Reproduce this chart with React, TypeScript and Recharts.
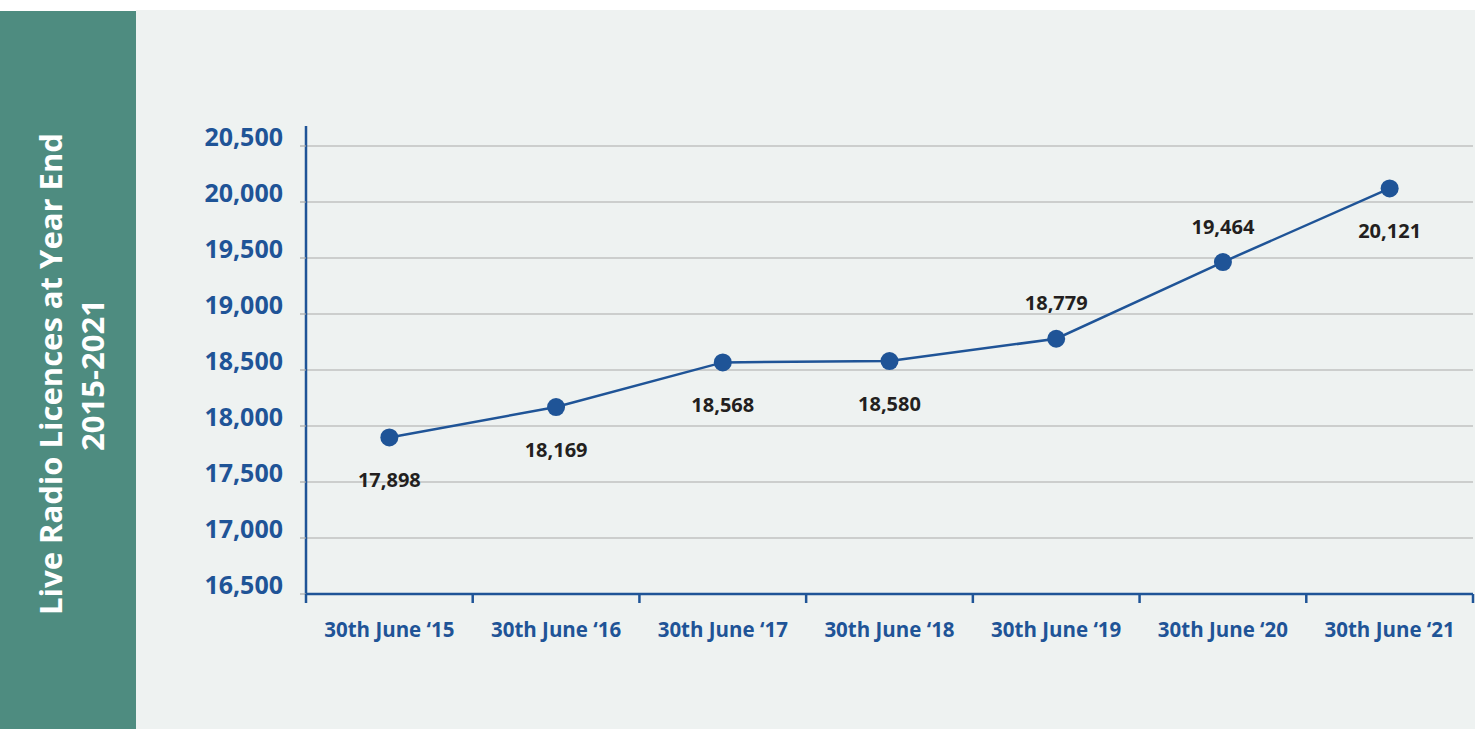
import React from "react";
import { LineChart, Line, XAxis, YAxis, CartesianGrid } from "recharts";

const periods = [
  "30th June ‘15",
  "30th June ‘16",
  "30th June ‘17",
  "30th June ‘18",
  "30th June ‘19",
  "30th June ‘20",
  "30th June ‘21",
];
const licences = [17898, 18169, 18568, 18580, 18779, 19464, 20121];
const yTicks = [16500, 17000, 17500, 18000, 18500, 19000, 19500, 20000, 20500];
// which value labels sit above their dot
const labelAbove = [false, false, false, false, true, true, false];

const W = 1475;
const H = 729;
const TOP = 126;
const AXIS_X = 306;
const PLOT_RIGHT = 1473;
const BAND = (PLOT_RIGHT - AXIS_X) / periods.length;

const BLUE = "#1f5497";
const GRID = "#a9a9a9";
const FONT = "'Open Sans', sans-serif";

const chartData = periods.map((p, i) => ({ period: p, value: licences[i] }));

const fmt = (v: number) => v.toLocaleString("en-US");

const XTick = (props: any) => {
  const { x, y, payload, index } = props;
  const left = x - BAND / 2;
  const right = x + BAND / 2;
  return (
    <g>
      <line x1={left} x2={left} y1={y} y2={y + 9} stroke={BLUE} strokeWidth={2.5} />
      {index === periods.length - 1 && (
        <line x1={right} x2={right} y1={y} y2={y + 9} stroke={BLUE} strokeWidth={2.5} />
      )}
      <text
        x={x}
        y={y + 35}
        textAnchor="middle"
        dominantBaseline="central"
        fill={BLUE}
        fontSize={20.5}
        fontWeight={700}
        fontFamily={FONT}
      >
        {payload.value}
      </text>
    </g>
  );
};

const YTick = (props: any) => {
  const { x, y, payload } = props;
  return (
    <text
      x={x}
      y={y - 10}
      textAnchor="end"
      dominantBaseline="central"
      fill={BLUE}
      fontSize={25}
      fontWeight={700}
      fontFamily={FONT}
    >
      {fmt(payload.value)}
    </text>
  );
};

// skip the line recharts adds along the top edge of the plot
const GridLine = (props: any) => {
  const { x1, x2, y1, y2, index } = props;
  if (Math.abs(y1 - TOP) < 2) return <g key={`gl-${index}`} />;
  return (
    <line
      key={`gl-${index}`}
      x1={x1}
      x2={x2}
      y1={y1}
      y2={y2}
      stroke={GRID}
      strokeWidth={1.2}
    />
  );
};

const renderLabel = (props: any) => {
  const { x, y, value, index } = props;
  const above = labelAbove[index];
  return (
    <text
      key={`lbl-${index}`}
      x={x}
      y={above ? y - 36 : y + 42}
      textAnchor="middle"
      dominantBaseline="central"
      fill="#231f20"
      fontSize={20}
      fontWeight={700}
      fontFamily={FONT}
    >
      {fmt(value)}
    </text>
  );
};

const App = () => {
  return (
    <div
      style={{
        position: "absolute",
        left: 0,
        top: 0,
        width: W,
        height: H,
        background: "#ffffff",
        fontFamily: FONT,
      }}
    >
      <svg width={W} height={H} style={{ position: "absolute", left: 0, top: 0 }}>
        <rect x={0} y={11} width={136} height={H - 11} fill="#4e8c80" />
        <rect x={136} y={10} width={W - 136} height={H - 10} fill="#eef2f1" />
        <g transform="translate(50, 374) rotate(-90)">
          <text
            x={0}
            y={0}
            textAnchor="middle"
            dominantBaseline="central"
            fill="#ffffff"
            fontSize={31}
            fontWeight={700}
            fontFamily={FONT}
          >
            Live Radio Licences at Year End
          </text>
        </g>
        <g transform="translate(92, 375) rotate(-90)">
          <text
            x={0}
            y={0}
            textAnchor="middle"
            dominantBaseline="central"
            fill="#ffffff"
            fontSize={31}
            fontWeight={700}
            fontFamily={FONT}
          >
            2015-2021
          </text>
        </g>
      </svg>
      <div style={{ position: "absolute", left: 0, top: 0 }}>
        <LineChart
          width={W}
          height={H}
          data={chartData}
          margin={{ top: TOP, right: W - PLOT_RIGHT, bottom: 0, left: 0 }}
        >
          <CartesianGrid vertical={false} horizontal={<GridLine />} />
          <XAxis
            dataKey="period"
            interval={0}
            height={H - 594}
            padding={{ left: BAND / 2, right: BAND / 2 }}
            axisLine={{ stroke: BLUE, strokeWidth: 2.5 }}
            tickLine={false}
            tickSize={0}
            tickMargin={0}
            tick={<XTick />}
          />
          <YAxis
            width={AXIS_X}
            domain={[16500, 20500]}
            ticks={yTicks}
            interval={0}
            padding={{ top: 20, bottom: 0 }}
            axisLine={{ stroke: BLUE, strokeWidth: 2.5 }}
            tickLine={{ stroke: GRID, strokeWidth: 1.2 }}
            tickSize={6}
            tickMargin={17}
            tick={<YTick />}
          />
          <Line
            type="linear"
            dataKey="value"
            stroke={BLUE}
            strokeWidth={2.5}
            dot={{ r: 9, fill: BLUE, stroke: "none" }}
            activeDot={false}
            label={renderLabel}
            isAnimationActive={false}
          />
        </LineChart>
      </div>
    </div>
  );
};

export default App;
